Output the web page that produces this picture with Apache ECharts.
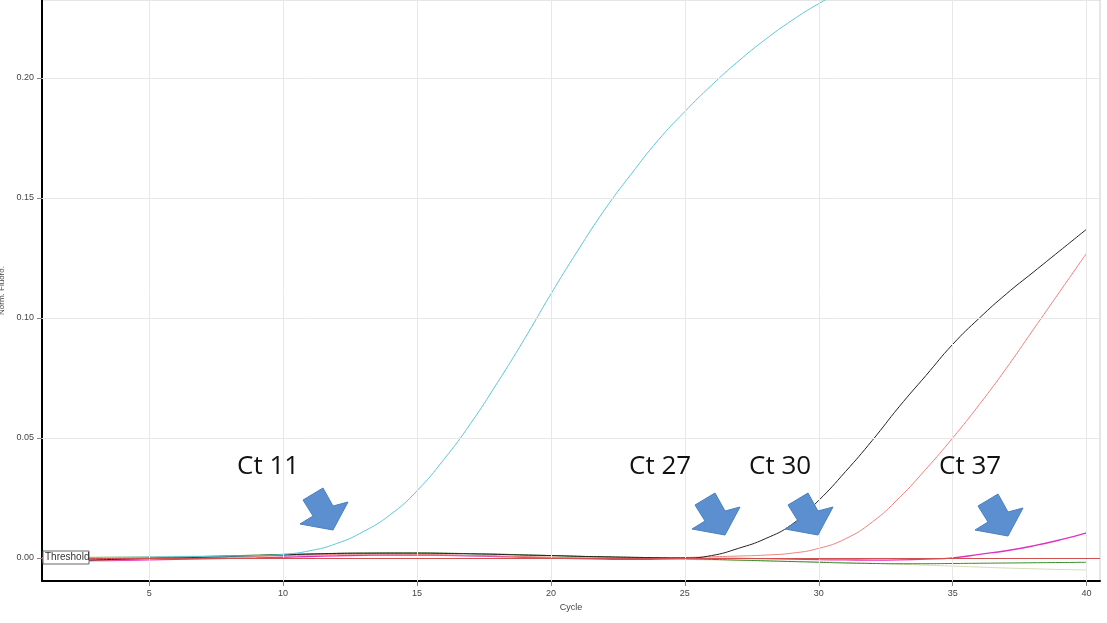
<!DOCTYPE html>
<html><head><meta charset="utf-8">
<script src="https://cdn.jsdelivr.net/npm/echarts@6/dist/echarts.min.js"></script>
<style>html,body{margin:0;padding:0;background:#fff}#c{width:1107px;height:623px}</style>
</head><body><div id="c"></div>
<script>
const cycles = Array.from({length:40},(_,i)=>i+1);
const xTicks = [5,10,15,20,25,30,35,40];
const yTicks = [0,0.05,0.10,0.15,0.20];
const threshold = 0.0035;
const cyan = [0.000,0.000,0.0002,0.0003,0.0004,0.0005,0.0006,0.0008,0.001,0.0015,0.003,0.006,0.011,0.018,0.028,0.041,0.056,0.073,0.091,0.110,0.128,0.145,0.160,0.174,0.186,0.197,0.207,0.216,0.224,0.231,0.237,0.243,0.248,0.253,0.257,0.261,0.264,0.267,0.270,0.272];
const black = [-0.001,-0.001,-0.0008,-0.0005,-0.0002,0.000,0.0003,0.0006,0.001,0.0013,0.0016,0.0019,0.002,0.002,0.002,0.0019,0.0017,0.0015,0.0012,0.001,0.0007,0.0005,0.0003,0.0001,0.000,0.001,0.004,0.008,0.014,0.024,0.036,0.049,0.063,0.076,0.089,0.100,0.110,0.119,0.128,0.137];
const pink = [-0.001,-0.001,-0.001,-0.0008,-0.0005,-0.0002,0.000,0.0003,0.0006,0.001,0.0013,0.0015,0.0016,0.0016,0.0015,0.0013,0.001,0.0008,0.0005,0.0003,0.0001,0.000,0.000,0.000,0.0002,0.0005,0.0008,0.0012,0.002,0.004,0.008,0.015,0.025,0.037,0.050,0.064,0.079,0.095,0.111,0.127];
const magenta = [-0.0012,-0.0012,-0.0011,-0.001,-0.0008,-0.0006,-0.0004,-0.0002,0.000,0.0003,0.0006,0.0009,0.0011,0.0012,0.0012,0.0011,0.0009,0.0006,0.0003,0.000,-0.0003,-0.0005,-0.0006,-0.0005,-0.0003,-0.0002,-0.0002,-0.0003,-0.0005,-0.0007,-0.0008,-0.0009,-0.0008,-0.0005,0.000,0.0015,0.003,0.005,0.0075,0.0105];
const green = [-0.0005,-0.0004,-0.0003,-0.0001,0.0001,0.0003,0.0006,0.0009,0.0012,0.0015,0.0017,0.0019,0.002,0.0021,0.0021,0.002,0.0018,0.0016,0.0013,0.001,0.0007,0.0004,0.0002,0.000,-0.0003,-0.0006,-0.0009,-0.0012,-0.0015,-0.0018,-0.0021,-0.0023,-0.0024,-0.0024,-0.0023,-0.0022,-0.0021,-0.002,-0.0019,-0.0018];
const beige = [0.0002,0.0003,0.0004,0.0005,0.0006,0.0007,0.0008,0.0009,0.001,0.0011,0.0012,0.0012,0.0012,0.0012,0.0011,0.001,0.0009,0.0008,0.0006,0.0004,0.0002,0.000,-0.0002,-0.0004,-0.0006,-0.0008,-0.001,-0.0012,-0.0014,-0.0016,-0.0019,-0.0022,-0.0026,-0.003,-0.0034,-0.0038,-0.0042,-0.0045,-0.0048,-0.005];
const annotations = [{text:'Ct 11',x:271,y:472,tx:333,ty:530},{text:'Ct 27',x:663,y:472,tx:725,ty:535},{text:'Ct 30',x:783,y:472,tx:818,ty:535},{text:'Ct 37',x:973,y:472,tx:1008,ty:536}];

function mk(name,data,color,w){return {name,type:'line',data:cycles.map((c,i)=>[c,data[i]]),showSymbol:false,lineStyle:{color,width:w||1},smooth:true,z:3};}
const series=[mk('beige',beige,'#d8dcb0'),mk('green',green,'#3a8a2a'),mk('magenta',magenta,'#e030c0',1.3),mk('pink',pink,'#f08080'),mk('black',black,'#222222'),mk('cyan',cyan,'#5cc8d8')];
series.push({type:'line',data:[],markLine:{silent:true,symbol:'none',label:{show:false},lineStyle:{color:'#e8e8e8',type:'solid',width:1},
  data:[...xTicks.map(v=>({xAxis:v})),...yTicks.map(v=>({yAxis:v}))]},z:1});
series.push({type:'line',data:[],markLine:{silent:true,symbol:'none',label:{show:false},lineStyle:{color:'#d05050',type:'solid',width:1.2},data:[{yAxis:threshold}]},z:4});

const graphic=[];
annotations.forEach(a=>{
  graphic.push({type:'text',left:a.x-34,top:a.y-18,style:{text:a.text,font:'26px "Open Sans", sans-serif',fill:'#111'},z:10});
  const p=[[0,0],[-33,-6],[-20,-14],[-30,-30],[-10,-42],[0,-24],[15,-28]].map(q=>[a.tx+q[0],a.ty+q[1]]);
  graphic.push({type:'polygon',shape:{points:p},style:{fill:'#5b8fd0',stroke:'#4a7fc0',lineWidth:1},z:10});
});
graphic.push({type:'rect',shape:{x:43,y:551,width:46,height:13},style:{fill:'#fff',stroke:'#666',lineWidth:1},z:9});
graphic.push({type:'text',left:45,top:552,style:{text:'Threshold',font:'10px "Liberation Sans", Arial',fill:'#333'},z:10});
graphic.push({type:'rect',shape:{x:42,y:0,width:1058,height:581},style:{fill:'none',stroke:'#ccc',lineWidth:1},z:0});

const chart=echarts.init(document.getElementById('c'));
chart.setOption({animation:false,
  grid:{left:42,right:7,top:0,bottom:42,containLabel:false,outerBoundsMode:'none'},
  xAxis:{type:'value',min:1,max:40.5,
    axisLine:{show:true,onZero:false,lineStyle:{color:'#000',width:2}},
    axisTick:{show:true,customValues:xTicks,lineStyle:{color:'#888'}},
    axisLabel:{customValues:xTicks,color:'#444',fontSize:9,fontFamily:'Liberation Sans'},
    splitLine:{show:false},name:'Cycle',nameLocation:'middle',nameGap:22,nameTextStyle:{fontSize:9,color:'#444',fontFamily:'Liberation Sans'}},
  yAxis:{type:'value',min:-0.0096,max:0.2325,
    axisLine:{show:true,onZero:false,lineStyle:{color:'#000',width:2}},
    axisTick:{show:true,customValues:yTicks,lineStyle:{color:'#888'}},
    axisLabel:{customValues:yTicks,color:'#444',fontSize:9,fontFamily:'Liberation Sans',formatter:v=>v.toFixed(2)},
    splitLine:{show:false},name:'Norm. Fluoro.',nameLocation:'middle',nameGap:30,nameTextStyle:{fontSize:8,color:'#444',fontFamily:'Liberation Sans'}},
  series,graphic});
</script></body></html>
